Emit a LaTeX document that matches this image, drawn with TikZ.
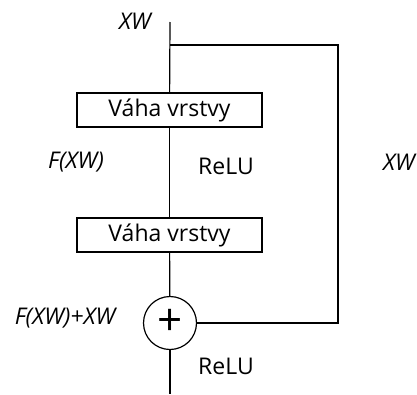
\documentclass[tikz,border=0pt]{standalone}
\usepackage{fontspec}
\setmainfont{Open Sans}
\usetikzlibrary{positioning,calc}

\tikzset{
  layerbox/.style={draw,line width=1.2pt,minimum width=185pt,minimum height=34pt,inner sep=0pt},
  sumnode/.style={draw,circle,line width=1.2pt,minimum size=53pt,inner sep=0pt},
  lbl/.style={font=\fontsize{23}{27}\selectfont,inner sep=0pt},
  ilbl/.style={lbl,font=\fontsize{23}{27}\selectfont\itshape}
}

\begin{document}
\begin{tikzpicture}[x=1pt,y=-1pt,line width=1.2pt]
\useasboundingbox (0,0) rectangle (417,394);

\coordinate (top) at (170,22);
\coordinate (split) at (170,45);
\coordinate (corner) at (338,45);
\coordinate (bottom) at (170,394);

\node[layerbox,lbl] (w1) at (169.5,110) {Váha vrstvy};
\node[layerbox,lbl] (w2) at (169.5,235) {Váha vrstvy};
\node[sumnode] (sum) at (170,323) {};
\node[font=\fontsize{44}{44}\selectfont,inner sep=0pt] (plus) at (170,322) {+};

\draw (top) -- (w1);
\draw (w1) -- (w2);
\draw (w2) -- (sum);
\draw (sum) -- (bottom);
\draw (split) -- (corner) |- (sum);

\node[ilbl] (xin) at (135,21) {XW};
\node[ilbl] (fx) at (76,162) {F(XW)};
\node[lbl] (relu1) at (226,166) {ReLU};
\node[ilbl] (xskip) at (399,162) {XW};
\node[ilbl] (fsum) at (65,318) {F(XW)+XW};
\node[lbl] (relu2) at (226,366) {ReLU};
\end{tikzpicture}
\end{document}
